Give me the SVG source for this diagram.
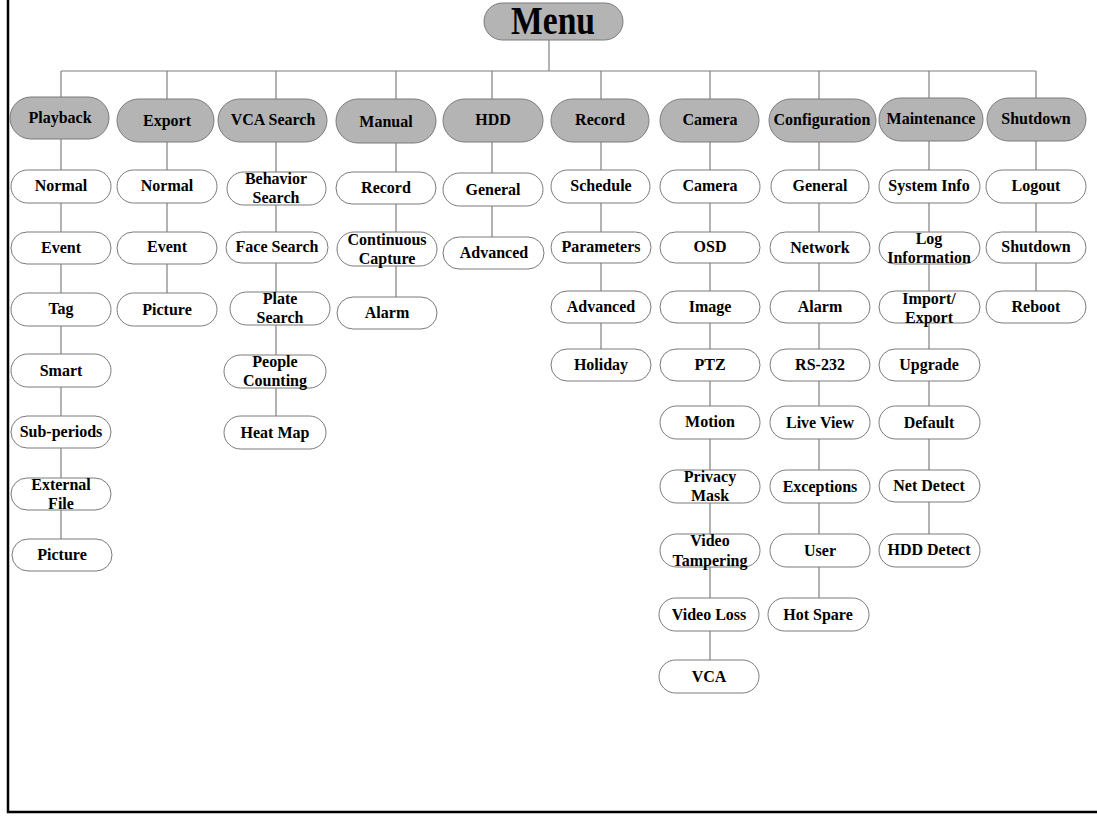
<svg xmlns="http://www.w3.org/2000/svg" width="1097" height="823" viewBox="0 0 1097 823">
<style>
.bg{fill:#ffffff}
.frame{stroke:#000;stroke-width:2.5;fill:none}
.conn line{stroke:#7f7f7f;stroke-width:1.2}
.h rect{fill:#b4b4b4;stroke:#7a7a7a;stroke-width:1}
.n rect{fill:#ffffff;stroke:#7a7a7a;stroke-width:1}
text{font-family:"Liberation Serif","Times New Roman",serif;font-weight:bold;fill:#000;text-anchor:middle}
.h text{font-size:16px}
.n text{font-size:16px}
.sm{font-size:15px}
</style>
<rect class="bg" x="0" y="0" width="1097" height="823"/>
<path class="frame" d="M8,0 V812 H1097"/>

<g id="connectors" class="conn">
<line x1="549" y1="40" x2="549" y2="71"/>
<line x1="61" y1="71" x2="1036" y2="71"/>
<line x1="61" y1="71" x2="61" y2="539"/>
<line x1="167" y1="71" x2="167" y2="293"/>
<line x1="276" y1="71" x2="276" y2="416"/>
<line x1="396" y1="71" x2="396" y2="297"/>
<line x1="492" y1="71" x2="492" y2="237"/>
<line x1="601" y1="71" x2="601" y2="349"/>
<line x1="710" y1="71" x2="710" y2="660"/>
<line x1="819" y1="71" x2="819" y2="598"/>
<line x1="929" y1="71" x2="929" y2="534"/>
<line x1="1036" y1="71" x2="1036" y2="291"/>
</g>

<g id="menu" class="h"><rect x="484" y="3" width="139" height="37" rx="18.5"/><text x="553" y="34" style="font-size:40px" textLength="84" lengthAdjust="spacingAndGlyphs">Menu</text></g>

<g id="playback" class="h"><rect x="10" y="97" width="99" height="42" rx="21"/><text x="60" y="123">Playback</text></g>
<g id="export" class="h"><rect x="117" y="99" width="97" height="43" rx="21.5"/><text x="167" y="126">Export</text></g>
<g id="vca-search" class="h"><rect x="218" y="99" width="109" height="43" rx="21.5"/><text x="273" y="125">VCA Search</text></g>
<g id="manual" class="h"><rect x="336" y="99" width="100" height="44" rx="22"/><text x="386" y="127">Manual</text></g>
<g id="hdd" class="h"><rect x="443" y="99" width="100" height="43" rx="21.5"/><text x="493" y="125">HDD</text></g>
<g id="record" class="h"><rect x="551" y="99" width="98" height="43" rx="21.5"/><text x="600" y="125">Record</text></g>
<g id="camera" class="h"><rect x="660" y="99" width="99" height="43" rx="21.5"/><text x="710" y="125">Camera</text></g>
<g id="configuration" class="h"><rect x="769" y="99" width="107" height="43" rx="21.5"/><text x="822" y="125" class="sm">Configuration</text></g>
<g id="maintenance" class="h"><rect x="879" y="98" width="104" height="43" rx="21.5"/><text x="931" y="124" class="sm">Maintenance</text></g>
<g id="shutdown" class="h"><rect x="987" y="98" width="99" height="43" rx="21.5"/><text x="1036" y="124">Shutdown</text></g>

<!-- Playback column -->
<g id="pb-normal" class="n"><rect x="11" y="170" width="100" height="33" rx="16.5"/><text x="61" y="191">Normal</text></g>
<g id="pb-event" class="n"><rect x="11" y="232" width="100" height="32" rx="16"/><text x="61" y="253">Event</text></g>
<g id="pb-tag" class="n"><rect x="11" y="293" width="100" height="33" rx="16.5"/><text x="61" y="314">Tag</text></g>
<g id="pb-smart" class="n"><rect x="11" y="354" width="100" height="33" rx="16.5"/><text x="61" y="376">Smart</text></g>
<g id="pb-subperiods" class="n"><rect x="11" y="416" width="100" height="32" rx="16"/><text x="61" y="437">Sub-periods</text></g>
<g id="pb-external" class="n"><rect x="11" y="478" width="100" height="32" rx="16"/><text x="61" y="490">External</text><text x="61" y="509">File</text></g>
<g id="pb-picture" class="n"><rect x="12" y="539" width="100" height="32" rx="16"/><text x="62" y="560">Picture</text></g>

<!-- Export column -->
<g id="ex-normal" class="n"><rect x="117" y="170" width="100" height="33" rx="16.5"/><text x="167" y="191">Normal</text></g>
<g id="ex-event" class="n"><rect x="117" y="232" width="100" height="32" rx="16"/><text x="167" y="252">Event</text></g>
<g id="ex-picture" class="n"><rect x="117" y="293" width="100" height="33" rx="16.5"/><text x="167" y="315">Picture</text></g>

<!-- VCA Search column -->
<g id="vca-behavior" class="n"><rect x="227" y="172" width="99" height="33" rx="16.5"/><text x="276" y="184">Behavior</text><text x="276" y="203">Search</text></g>
<g id="vca-face" class="n"><rect x="226" y="232" width="102" height="31" rx="15.5"/><text x="277" y="252">Face Search</text></g>
<g id="vca-plate" class="n"><rect x="230" y="292" width="100" height="33" rx="16.5"/><text x="280" y="304">Plate</text><text x="280" y="323">Search</text></g>
<g id="vca-people" class="n"><rect x="224" y="355" width="102" height="33" rx="16.5"/><text x="275" y="367">People</text><text x="275" y="386">Counting</text></g>
<g id="vca-heat" class="n"><rect x="224" y="416" width="102" height="33" rx="16.5"/><text x="275" y="438">Heat Map</text></g>

<!-- Manual column -->
<g id="mn-record" class="n"><rect x="336" y="172" width="100" height="32" rx="16"/><text x="386" y="193">Record</text></g>
<g id="mn-continuous" class="n"><rect x="337" y="232" width="100" height="34" rx="17"/><text x="387" y="245" class="sm">Continuous</text><text x="387" y="264">Capture</text></g>
<g id="mn-alarm" class="n"><rect x="337" y="297" width="100" height="32" rx="16"/><text x="387" y="318">Alarm</text></g>

<!-- HDD column -->
<g id="hdd-general" class="n"><rect x="443" y="173" width="100" height="33" rx="16.5"/><text x="493" y="195">General</text></g>
<g id="hdd-advanced" class="n"><rect x="443" y="237" width="101" height="32" rx="16"/><text x="494" y="258">Advanced</text></g>

<!-- Record column -->
<g id="rec-schedule" class="n"><rect x="551" y="170" width="99" height="33" rx="16.5"/><text x="601" y="191">Schedule</text></g>
<g id="rec-parameters" class="n"><rect x="551" y="232" width="100" height="31" rx="15.5"/><text x="601" y="252">Parameters</text></g>
<g id="rec-advanced" class="n"><rect x="551" y="291" width="100" height="32" rx="16"/><text x="601" y="312">Advanced</text></g>
<g id="rec-holiday" class="n"><rect x="551" y="349" width="100" height="32" rx="16"/><text x="601" y="370">Holiday</text></g>

<!-- Camera column -->
<g id="cam-camera" class="n"><rect x="660" y="170" width="100" height="33" rx="16.5"/><text x="710" y="191">Camera</text></g>
<g id="cam-osd" class="n"><rect x="660" y="232" width="100" height="31" rx="15.5"/><text x="710" y="252">OSD</text></g>
<g id="cam-image" class="n"><rect x="660" y="291" width="100" height="32" rx="16"/><text x="710" y="312">Image</text></g>
<g id="cam-ptz" class="n"><rect x="660" y="349" width="100" height="32" rx="16"/><text x="710" y="370">PTZ</text></g>
<g id="cam-motion" class="n"><rect x="660" y="406" width="100" height="33" rx="16.5"/><text x="710" y="427">Motion</text></g>
<g id="cam-privacy" class="n"><rect x="660" y="470" width="100" height="33" rx="16.5"/><text x="710" y="482">Privacy</text><text x="710" y="501">Mask</text></g>
<g id="cam-tampering" class="n"><rect x="660" y="534" width="100" height="33" rx="16.5"/><text x="710" y="546">Video</text><text x="710" y="566">Tampering</text></g>
<g id="cam-videoloss" class="n"><rect x="659" y="598" width="100" height="33" rx="16.5"/><text x="709" y="620">Video Loss</text></g>
<g id="cam-vca" class="n"><rect x="659" y="660" width="100" height="33" rx="16.5"/><text x="709" y="682">VCA</text></g>

<!-- Configuration column -->
<g id="cfg-general" class="n"><rect x="771" y="170" width="98" height="33" rx="16.5"/><text x="820" y="191">General</text></g>
<g id="cfg-network" class="n"><rect x="770" y="232" width="100" height="31" rx="15.5"/><text x="820" y="253">Network</text></g>
<g id="cfg-alarm" class="n"><rect x="770" y="291" width="100" height="32" rx="16"/><text x="820" y="312">Alarm</text></g>
<g id="cfg-rs232" class="n"><rect x="770" y="349" width="100" height="32" rx="16"/><text x="820" y="370">RS-232</text></g>
<g id="cfg-liveview" class="n"><rect x="770" y="406" width="100" height="33" rx="16.5"/><text x="820" y="428">Live View</text></g>
<g id="cfg-exceptions" class="n"><rect x="770" y="470" width="100" height="33" rx="16.5"/><text x="820" y="492">Exceptions</text></g>
<g id="cfg-user" class="n"><rect x="770" y="534" width="100" height="33" rx="16.5"/><text x="820" y="556">User</text></g>
<g id="cfg-hotspare" class="n"><rect x="768" y="598" width="101" height="33" rx="16.5"/><text x="818" y="620">Hot Spare</text></g>

<!-- Maintenance column -->
<g id="mt-sysinfo" class="n"><rect x="879" y="170" width="101" height="33" rx="16.5"/><text x="929" y="191">System Info</text></g>
<g id="mt-log" class="n"><rect x="879" y="232" width="101" height="32" rx="16"/><text x="929" y="244">Log</text><text x="929" y="263">Information</text></g>
<g id="mt-import" class="n"><rect x="879" y="291" width="101" height="32" rx="16"/><text x="929" y="304">Import/</text><text x="929" y="323">Export</text></g>
<g id="mt-upgrade" class="n"><rect x="879" y="349" width="101" height="32" rx="16"/><text x="929" y="370">Upgrade</text></g>
<g id="mt-default" class="n"><rect x="879" y="406" width="101" height="33" rx="16.5"/><text x="929" y="428">Default</text></g>
<g id="mt-netdetect" class="n"><rect x="879" y="470" width="101" height="32" rx="16"/><text x="929" y="491">Net Detect</text></g>
<g id="mt-hdddetect" class="n"><rect x="879" y="534" width="101" height="33" rx="16.5"/><text x="929" y="555">HDD Detect</text></g>

<!-- Shutdown column -->
<g id="sd-logout" class="n"><rect x="986" y="170" width="100" height="33" rx="16.5"/><text x="1036" y="191">Logout</text></g>
<g id="sd-shutdown" class="n"><rect x="986" y="232" width="100" height="31" rx="15.5"/><text x="1036" y="252">Shutdown</text></g>
<g id="sd-reboot" class="n"><rect x="986" y="291" width="100" height="32" rx="16"/><text x="1036" y="312">Reboot</text></g>
</svg>
